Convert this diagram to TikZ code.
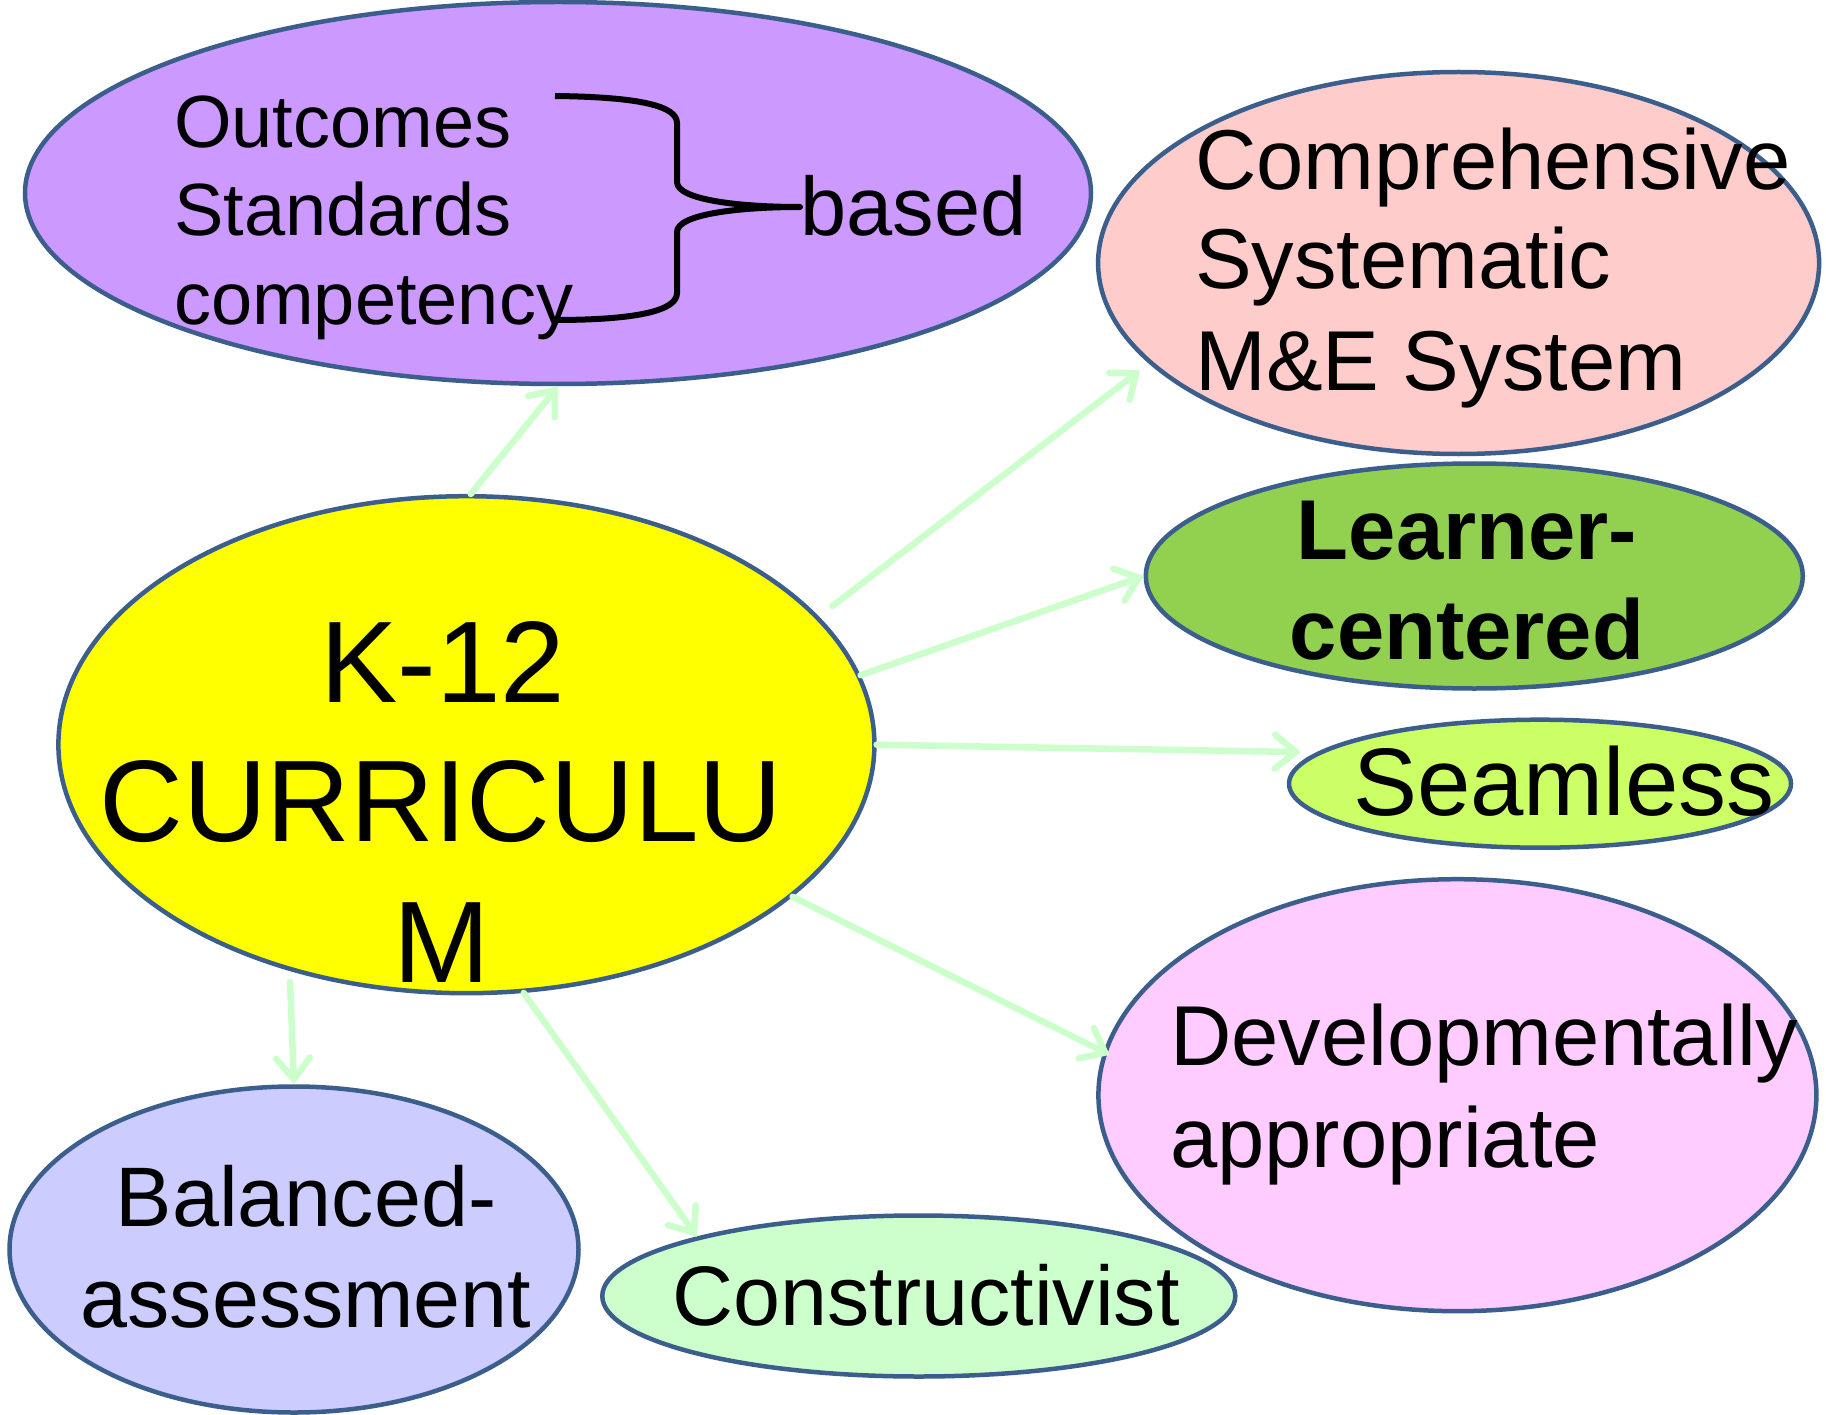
\documentclass[tikz,border=0pt]{standalone}
\usepackage{fontspec}
\setmainfont{Liberation Sans}
\usetikzlibrary{shapes.geometric,arrows.meta}
\definecolor{edge}{HTML}{3B5E8C}
\definecolor{arr}{HTML}{CCFFCC}
\definecolor{cpurple}{HTML}{CC99FF}
\definecolor{cpink}{HTML}{FFCCCC}
\definecolor{cgreen}{HTML}{92D050}
\definecolor{clime}{HTML}{CCFF66}
\definecolor{cmag}{HTML}{FFCCFF}
\definecolor{cmint}{HTML}{CCFFCC}
\definecolor{clav}{HTML}{CCCCFF}
\definecolor{cyel}{HTML}{FFFF00}
\tikzset{
  bub/.style={ellipse, draw=edge, line width=4.5pt, inner sep=0pt},
  lbl/.style={inner sep=0pt, text=black},
  conn/.style={draw=arr, line width=6.5pt, line cap=round,
    -{Straight Barb[length=21pt,width=34pt,line cap=round]}},
}
\begin{document}
\begin{tikzpicture}[x=1pt,y=-1pt]
\useasboundingbox[fill=white] (0,0) rectangle (1826,1415);
% ellipses
\node[bub, fill=cpurple, minimum width=1066pt, minimum height=382pt] (purple) at (558,193) {};
\node[bub, fill=cpink, minimum width=721pt, minimum height=382pt] (pink) at (1458.6,263) {};
\node[bub, fill=cgreen, minimum width=657pt, minimum height=225pt] (green) at (1474.3,576) {};
\node[bub, fill=clime, minimum width=502pt, minimum height=128pt] (seam) at (1540,783.7) {};
\node[bub, fill=cmag, minimum width=718pt, minimum height=432pt] (devel) at (1457.4,1095.2) {};
\node[bub, fill=cmint, minimum width=633pt, minimum height=161pt] (constr) at (918.8,1296) {};
\node[bub, fill=clav, minimum width=569pt, minimum height=326pt] (bal) at (294,1249.5) {};
\node[bub, fill=cyel, minimum width=816pt, minimum height=497pt] (yellow) at (466.4,744.7) {};
% brace
\draw[line width=6pt, line join=round] (555,96) .. controls (640,97) and (677,106) .. (677,123)
  -- (677,182) .. controls (677,200) and (740,207) .. (800,207)
  .. controls (740,207) and (677,214) .. (677,232)
  -- (677,293) .. controls (677,310) and (640,320) .. (554,320);
% texts
\node[lbl, anchor=base west, font=\fontsize{74}{88}\selectfont] (t1) at (174,148) {Outcomes};
\node[lbl, anchor=base west, font=\fontsize{74}{88}\selectfont] (t2) at (174,236) {Standards};
\node[lbl, anchor=base west, font=\fontsize{74}{88}\selectfont] (t3) at (174,324) {competency};
\node[lbl, anchor=base west, font=\fontsize{83}{96}\selectfont] (tb) at (800,236) {based};
\node[lbl, anchor=base west, font=\fontsize{85}{100}\selectfont] (c1) at (1195,190) {Comprehensive};
\node[lbl, anchor=base west, font=\fontsize{85}{100}\selectfont] (c2) at (1195,289) {Systematic};
\node[lbl, anchor=base west, font=\fontsize{85}{100}\selectfont] (c3) at (1195,390) {M\&E System};
\node[lbl, anchor=base, font=\fontsize{85}{100}\selectfont\bfseries] (l1) at (1467,559) {Learner-};
\node[lbl, anchor=base, font=\fontsize{85}{100}\selectfont\bfseries] (l2) at (1467,659) {centered};
\node[lbl, anchor=base west, font=\fontsize{96}{110}\selectfont] (s1) at (1353,815) {Seamless};
\node[lbl, anchor=base west, font=\fontsize{85}{100}\selectfont] (d1) at (1170,1065) {Developmentally};
\node[lbl, anchor=base west, font=\fontsize{85}{100}\selectfont] (d2) at (1170,1167) {appropriate};
\node[lbl, anchor=base, font=\fontsize{84.5}{100}\selectfont] (k1) at (926,1325) {Constructivist};
\node[lbl, anchor=base, font=\fontsize{84.5}{100}\selectfont] (b1) at (306,1226) {Balanced-};
\node[lbl, anchor=base, font=\fontsize{84.5}{100}\selectfont] (b2) at (306,1327) {assessment};
\node[lbl, anchor=base, font=\fontsize{116}{140}\selectfont] (y1) at (443,702) {K-12};
\node[lbl, anchor=base, font=\fontsize{116}{140}\selectfont] (y2) at (441,841) {CURRICULU};
\node[lbl, anchor=base, font=\fontsize{116}{140}\selectfont] (y3) at (442,982) {M};
% connectors
\draw[conn] (yellow.89.7) -- (purple.south);
\draw[conn, shorten <=17pt, shorten >=11pt] (yellow.20.9) -- (pink.198.8);
\draw[conn] (yellow.10.5) -- (green.west);
\draw[conn, shorten >=16pt] (yellow.0.2) -- (seam.172.1);
\draw[conn, shorten >=-7pt] (yellow.-25.8) -- (devel.173.5);
\draw[conn] (yellow.-77.1) -- (constr.165.5);
\draw[conn, shorten <=11pt] (yellow.-128.3) -- (bal.north);
\end{tikzpicture}
\end{document}
